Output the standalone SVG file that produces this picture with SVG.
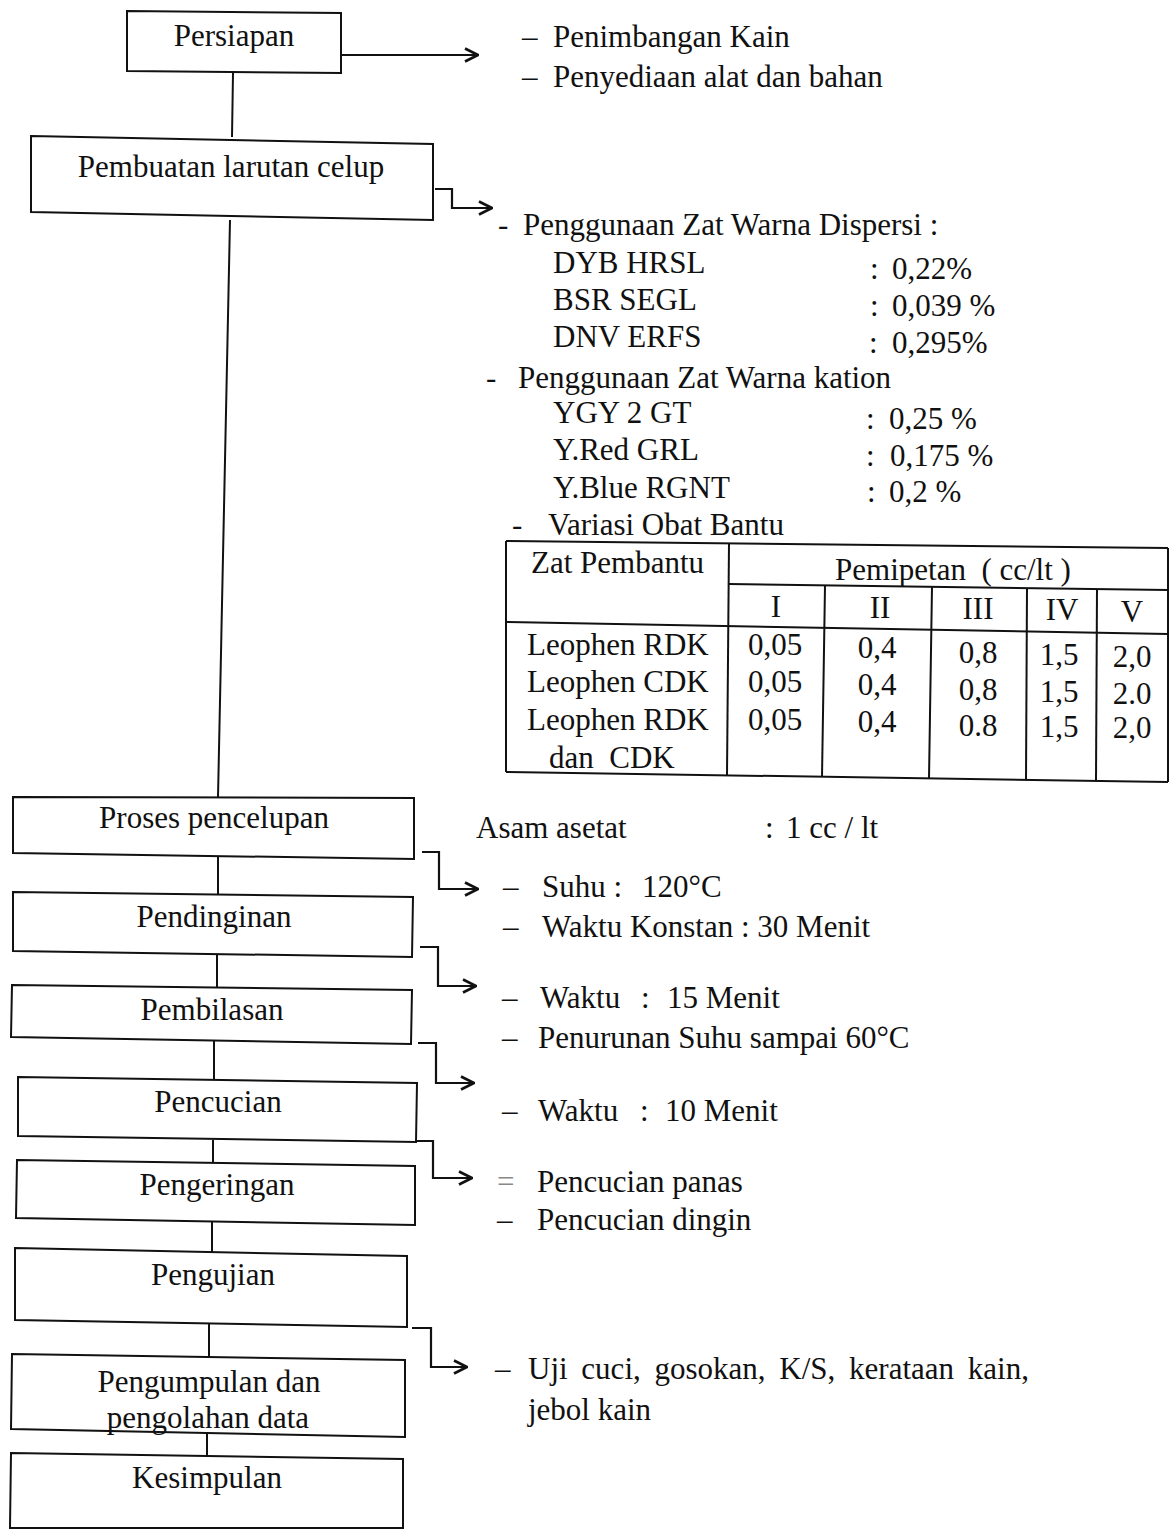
<svg xmlns="http://www.w3.org/2000/svg" width="1172" height="1529" viewBox="0 0 1172 1529">
<style>
.bg{fill:#fff}
.box{fill:none;stroke:#111;stroke-width:2}
.ln{fill:none;stroke:#111;stroke-width:2}
.arr{fill:none;stroke:#111;stroke-width:2.2;marker-end:url(#ah)}
.t{font-family:"Liberation Serif","Times New Roman",serif;font-size:31px;fill:#111}
.c{text-anchor:middle}
</style>
<defs>
<marker id="ah" viewBox="0 0 16 16" refX="15" refY="8" markerWidth="16" markerHeight="16" markerUnits="userSpaceOnUse" orient="auto">
<path d="M2,1.5 L15,8 L2,14.5" fill="none" stroke="#111" stroke-width="2.6"/>
</marker>
</defs>
<rect class="bg" x="0" y="0" width="1172" height="1529"/>

<g id="connectors">
<line class="ln" x1="233" y1="73" x2="232" y2="137"/>
<line class="ln" x1="230" y1="220" x2="218" y2="797"/>
<line class="ln" x1="218" y1="857" x2="218" y2="895"/>
<line class="ln" x1="217" y1="955" x2="217" y2="988"/>
<line class="ln" x1="214" y1="1041" x2="214" y2="1080"/>
<line class="ln" x1="213" y1="1140" x2="213" y2="1163"/>
<line class="ln" x1="212" y1="1222" x2="212" y2="1252"/>
<line class="ln" x1="209" y1="1324" x2="209" y2="1357"/>
<line class="ln" x1="207" y1="1434" x2="207" y2="1456"/>
<path class="arr" d="M341,55 L478,55"/>
<path class="arr" d="M435,189 L452,189 L452,208 L492,208"/>
<path class="arr" d="M422,852 L439,852 L439,889 L478,889"/>
<path class="arr" d="M420,947 L438,947 L438,986 L476,986"/>
<path class="arr" d="M418,1043 L436,1043 L436,1083 L474,1083"/>
<path class="arr" d="M416,1141 L433,1141 L433,1178 L472,1178"/>
<path class="arr" d="M412,1328 L431,1328 L431,1367 L467,1367"/>
</g>

<g id="n-persiapan">
<polygon class="box" points="127,11 341,13 341,73 127,71"/>
<text class="t c" x="234" y="46">Persiapan</text>
</g>
<g id="n-pembuatan">
<polygon class="box" points="31,136 433,144 433,220 31,212"/>
<text class="t c" x="231" y="177">Pembuatan larutan celup</text>
</g>
<g id="n-proses">
<polygon class="box" points="13,797 414,798 414,859 13,853"/>
<text class="t c" x="214" y="828">Proses pencelupan</text>
</g>
<g id="n-pendinginan">
<polygon class="box" points="13,892 413,897 412,957 13,951"/>
<text class="t c" x="214" y="927">Pendinginan</text>
</g>
<g id="n-pembilasan">
<polygon class="box" points="12,985 412,990 411,1044 11,1037"/>
<text class="t c" x="212" y="1020">Pembilasan</text>
</g>
<g id="n-pencucian">
<polygon class="box" points="18,1077 417,1083 416,1142 18,1136"/>
<text class="t c" x="218" y="1112">Pencucian</text>
</g>
<g id="n-pengeringan">
<polygon class="box" points="17,1160 415,1166 415,1225 16,1218"/>
<text class="t c" x="217" y="1195">Pengeringan</text>
</g>
<g id="n-pengujian">
<polygon class="box" points="15,1248 407,1256 407,1327 15,1320"/>
<text class="t c" x="213" y="1285">Pengujian</text>
</g>
<g id="n-pengumpulan">
<polygon class="box" points="12,1354 405,1360 405,1437 11,1429"/>
<text class="t c" x="209" y="1392">Pengumpulan dan</text>
<text class="t c" x="208" y="1428">pengolahan data</text>
</g>
<g id="n-kesimpulan">
<polygon class="box" points="11,1453 403,1459 403,1528 10,1528"/>
<text class="t c" x="207" y="1488">Kesimpulan</text>
</g>

<g id="notes-persiapan">
<text class="t" x="522" y="47">–<tspan x="553">Penimbangan Kain</tspan></text>
<text class="t" x="522" y="87">–<tspan x="553">Penyediaan alat dan bahan</tspan></text>
</g>

<g id="notes-larutan">
<text class="t" x="498" y="235">-<tspan x="523">Penggunaan Zat Warna Dispersi :</tspan></text>
<text class="t" x="553" y="273">DYB HRSL</text>
<text class="t" x="870" y="279">:<tspan x="892">0,22%</tspan></text>
<text class="t" x="553" y="310">BSR SEGL</text>
<text class="t" x="870" y="316">:<tspan x="892">0,039 %</tspan></text>
<text class="t" x="553" y="347">DNV ERFS</text>
<text class="t" x="869" y="353">:<tspan x="892">0,295%</tspan></text>
<text class="t" x="486" y="388">-<tspan x="518">Penggunaan Zat Warna kation</tspan></text>
<text class="t" x="553" y="423">YGY 2 GT</text>
<text class="t" x="866" y="429">:<tspan x="889">0,25 %</tspan></text>
<text class="t" x="553" y="460">Y.Red GRL</text>
<text class="t" x="866" y="466">:<tspan x="890">0,175 %</tspan></text>
<text class="t" x="553" y="498">Y.Blue RGNT</text>
<text class="t" x="867" y="502">:<tspan x="889">0,2 %</tspan></text>
<text class="t" x="512" y="535">-<tspan x="548">Variasi Obat Bantu</tspan></text>
</g>

<g id="table">
<line class="ln" x1="506" y1="541" x2="1168" y2="548"/>
<line class="ln" x1="506" y1="541" x2="506" y2="772"/>
<line class="ln" x1="1168" y1="548" x2="1168" y2="782"/>
<line class="ln" x1="506" y1="772" x2="1168" y2="782"/>
<line class="ln" x1="729" y1="543" x2="727" y2="775"/>
<line class="ln" x1="729" y1="584" x2="1168" y2="590"/>
<line class="ln" x1="506" y1="622" x2="1168" y2="634"/>
<line class="ln" x1="825" y1="586" x2="822" y2="777"/>
<line class="ln" x1="932" y1="587" x2="929" y2="779"/>
<line class="ln" x1="1027" y1="588" x2="1026" y2="780"/>
<line class="ln" x1="1097" y1="589" x2="1096" y2="781"/>
<text class="t" x="531" y="573">Zat Pembantu</text>
<text class="t c" x="953" y="580" xml:space="preserve">Pemipetan  ( cc/lt )</text>
<text class="t c" x="776" y="617">I</text>
<text class="t c" x="880" y="618">II</text>
<text class="t c" x="978" y="619">III</text>
<text class="t c" x="1062" y="620">IV</text>
<text class="t c" x="1132" y="622">V</text>
<text class="t" x="527" y="655">Leophen RDK</text>
<text class="t" x="527" y="692">Leophen CDK</text>
<text class="t" x="527" y="730">Leophen RDK</text>
<text class="t" x="549" y="768" xml:space="preserve">dan  CDK</text>
<text class="t c" x="775" y="655">0,05</text>
<text class="t c" x="775" y="692">0,05</text>
<text class="t c" x="775" y="730">0,05</text>
<text class="t c" x="877" y="658">0,4</text>
<text class="t c" x="877" y="695">0,4</text>
<text class="t c" x="877" y="732">0,4</text>
<text class="t c" x="978" y="663">0,8</text>
<text class="t c" x="978" y="700">0,8</text>
<text class="t c" x="978" y="736">0.8</text>
<text class="t c" x="1059" y="665">1,5</text>
<text class="t c" x="1059" y="702">1,5</text>
<text class="t c" x="1059" y="737">1,5</text>
<text class="t c" x="1132" y="667">2,0</text>
<text class="t c" x="1132" y="704">2.0</text>
<text class="t c" x="1132" y="738">2,0</text>
</g>

<g id="notes-proses">
<text class="t" x="476" y="838">Asam asetat</text>
<text class="t" x="765" y="838">:<tspan x="786">1 cc / lt</tspan></text>
<text class="t" x="503" y="897">–<tspan x="542">Suhu :</tspan><tspan x="642">120°C</tspan></text>
<text class="t" x="503" y="937">–<tspan x="542">Waktu Konstan : 30 Menit</tspan></text>
</g>
<g id="notes-pendinginan">
<text class="t" x="502" y="1008">–<tspan x="540">Waktu</tspan><tspan x="641">:</tspan><tspan x="667">15 Menit</tspan></text>
<text class="t" x="502" y="1048">–<tspan x="538">Penurunan Suhu sampai 60°C</tspan></text>
</g>
<g id="notes-pembilasan">
<text class="t" x="502" y="1121">–<tspan x="538">Waktu</tspan><tspan x="640">:</tspan><tspan x="665">10 Menit</tspan></text>
</g>
<g id="notes-pencucian">
<text class="t" x="497" y="1192"><tspan fill="#888">=</tspan><tspan x="537">Pencucian panas</tspan></text>
<text class="t" x="497" y="1230">–<tspan x="537">Pencucian dingin</tspan></text>
</g>
<g id="notes-pengujian">
<text class="t" x="495" y="1379">–<tspan x="528" word-spacing="6">Uji cuci, gosokan, K/S, kerataan kain,</tspan></text>
<text class="t" x="528" y="1420">jebol kain</text>
</g>
</svg>
